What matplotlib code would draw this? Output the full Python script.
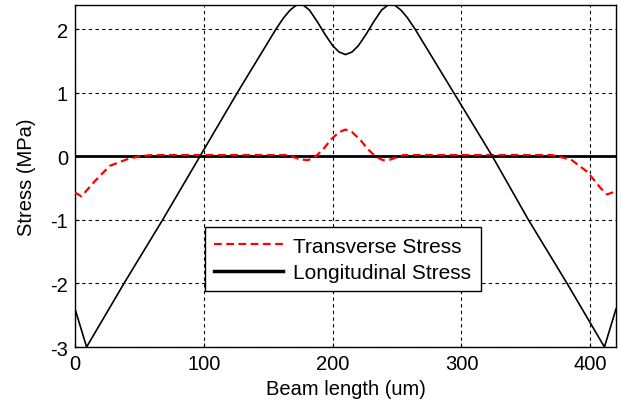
import matplotlib
matplotlib.use('Agg')
import matplotlib.pyplot as plt

# beam position (um) and stress values (MPa)
long_x = [0, 9, 38, 68, 97, 126, 156, 162, 167, 172, 177, 182, 188, 194,
          200, 205, 210, 215, 220, 226, 232, 238, 243, 248, 253, 258, 264,
          294, 324, 352, 382, 411, 420]
long_y = [-2.4, -3.0, -2.0, -1.0, 0.0, 1.0, 2.0, 2.18, 2.3, 2.38, 2.38,
          2.3, 2.12, 1.92, 1.74, 1.64, 1.6, 1.64, 1.74, 1.92, 2.12, 2.3,
          2.38, 2.38, 2.3, 2.18, 2.0, 1.0, 0.0, -1.0, -2.0, -3.0, -2.4]

trans_x = [0, 5, 15, 27, 40, 50, 60, 165, 175, 181, 187, 193, 199, 205,
           210, 215, 221, 227, 233, 239, 245, 255, 370, 385, 398, 408, 413,
           420]
trans_y = [-0.57, -0.63, -0.4, -0.15, -0.05, 0.0, 0.02, 0.02, -0.05, -0.06,
           0.0, 0.12, 0.27, 0.38, 0.42, 0.38, 0.27, 0.12, 0.0, -0.06, -0.05,
           0.02, 0.02, -0.05, -0.25, -0.5, -0.6, -0.55]

plt.rcParams['font.family'] = ['Liberation Sans', 'DejaVu Sans']
plt.rcParams['axes.unicode_minus'] = False

fig = plt.figure(figsize=(6.21, 4.10), dpi=100)
ax = fig.add_axes([0.1208, 0.1512, 0.8712, 0.8342])

ax.axhline(0, color='black', linewidth=2.0, zorder=3)
l1, = ax.plot(trans_x, trans_y, color='red', linewidth=1.6,
              dashes=(3.5, 2), label='Transverse Stress', zorder=4)
l2, = ax.plot(long_x, long_y, color='black', linewidth=1.2,
              label='Longitudinal Stress', zorder=4)

ax.set_xlim(0, 420)
ax.set_ylim(-3, 2.38)
ax.set_xticks([0, 100, 200, 300, 400])
ax.set_yticks([-3, -2, -1, 0, 1, 2])
ax.grid(True, color='black', linewidth=0.8, dashes=(3, 3))
ax.tick_params(direction='in', length=3, labelsize=14.5, pad=5)
for s in ax.spines.values():
    s.set_linewidth(1.0)

ax.set_xlabel('Beam length (um)', fontsize=14.5, labelpad=4)
ax.set_ylabel('Stress (MPa)', fontsize=14.5, labelpad=10)

leg = ax.legend(handles=[l1, l2], loc='upper left',
                bbox_to_anchor=(0.24, 0.35), fontsize=15, frameon=True,
                fancybox=False, edgecolor='black', framealpha=1,
                handlelength=3.3, borderpad=0.45, labelspacing=0.35,
                handletextpad=0.5, borderaxespad=0)
leg.get_frame().set_linewidth(1.0)
leg.get_lines()[1].set_linewidth(2.5)
leg.set_zorder(10)

fig.savefig('out.png', dpi=100)
